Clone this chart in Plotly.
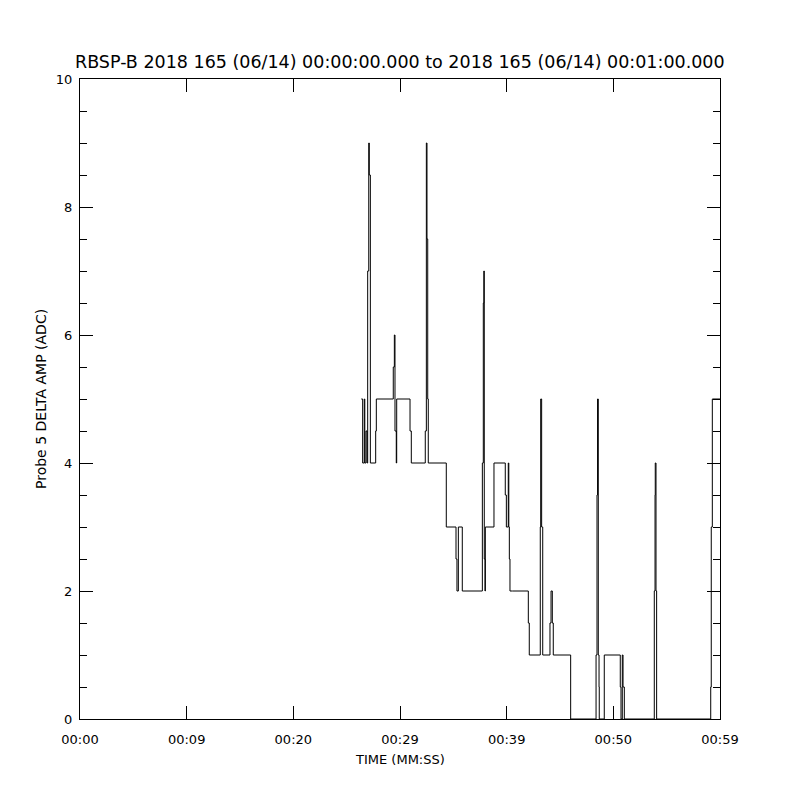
import plotly.graph_objects as go

# time (seconds after 00:00:00) at which each step starts, and the ADC value
times = [26.37, 26.50, 26.65, 26.70, 26.81, 26.91, 26.97, 27.07, 27.12, 27.22,
         27.72, 27.78, 29.37, 29.47, 29.53, 29.65, 29.69, 30.94, 31.06, 32.37,
         32.47, 32.53, 32.60, 32.65, 34.34, 35.25, 35.34, 35.47, 35.84, 37.72,
         37.81, 37.86, 37.90, 37.97, 38.00, 38.81, 39.87, 39.97, 40.15, 40.20,
         40.25, 40.31, 40.53, 42.03, 42.12, 43.15, 43.19, 43.28, 43.38, 44.06,
         44.16, 44.28, 44.37, 46.00, 48.38, 48.47, 48.52, 48.59, 48.66, 48.68,
         49.15, 50.65, 50.72, 50.84, 50.91, 51.03, 53.84, 53.91, 53.93, 54.00,
         54.06, 59.13, 59.18, 59.28, 60.00]
values = [5, 4, 5, 4, 4.5, 4, 7, 9, 8.5, 4,
          4.5, 5, 5.5, 6, 4.5, 4, 5, 4.5, 4, 4.5,
          9, 7.5, 5, 4, 3, 2.5, 2, 3, 2, 4,
          6.5, 7, 2.5, 2, 3, 4, 3.5, 3, 4, 3,
          2.5, 2, 2, 1.5, 1, 3, 5, 3, 1, 1.5,
          2, 1.5, 1, 0, 1, 3.5, 5, 1, 0.5, 0,
          1, 0.5, 0, 1, 0.5, 0, 2, 3.5, 4, 2,
          0, 0.5, 3, 5, 5]

x_tickvals = [0, 10, 20, 30, 40, 50, 60]
x_ticktext = ["00:00", "00:09", "00:20", "00:29", "00:39", "00:50", "00:59"]
y_tickvals = [0, 2, 4, 6, 8, 10]

title_text = "RBSP-B 2018 165 (06/14) 00:00:00.000 to 2018 165 (06/14) 00:01:00.000"
x_title = "TIME (MM:SS)"
y_title = "Probe 5 DELTA AMP (ADC)"

FONT = "DejaVu Sans"

fig = go.Figure()
fig.add_trace(go.Scatter(
    x=times, y=values, mode="lines",
    line=dict(color="black", width=1, shape="hv"),
    hoverinfo="skip", showlegend=False,
))

fig.update_layout(
    width=800, height=800,
    margin=dict(l=72, r=88, t=71, b=89),
    paper_bgcolor="white", plot_bgcolor="white",
    font=dict(family=FONT, color="black", size=13),
    showlegend=False,
    annotations=[
        dict(text=title_text, xref="paper", yref="paper", x=0.5, y=1.0,
             yshift=17, xanchor="center", yanchor="middle", showarrow=False,
             font=dict(family=FONT, size=17.5, color="black")),
        dict(text=x_title, xref="paper", yref="paper", x=0.5, y=0,
             yshift=-40, xanchor="center", yanchor="middle", showarrow=False,
             font=dict(family=FONT, size=13, color="black")),
        dict(text=y_title, xref="paper", yref="paper", x=0, y=0.5,
             xshift=-39, xanchor="center", yanchor="middle", showarrow=False,
             textangle=-90,
             font=dict(family=FONT, size=14, color="black")),
    ],
)

fig.update_xaxes(
    range=[0, 60], tickvals=x_tickvals, ticktext=x_ticktext,
    ticks="inside", ticklen=13, tickwidth=1, tickcolor="black",
    showline=True, linecolor="black", linewidth=1, mirror="allticks",
    showgrid=False, zeroline=False, ticklabelstandoff=8,
    tickfont=dict(family=FONT, size=13),
)
fig.update_yaxes(
    range=[0, 10], tickvals=y_tickvals,
    ticks="inside", ticklen=13, tickwidth=1, tickcolor="black",
    minor=dict(dtick=0.5, ticks="inside", ticklen=7, tickcolor="black", showgrid=False),
    showline=True, linecolor="black", linewidth=1, mirror="allticks",
    showgrid=False, zeroline=False, ticklabelstandoff=4,
    tickfont=dict(family=FONT, size=13),
)

fig.write_html("out.html")
